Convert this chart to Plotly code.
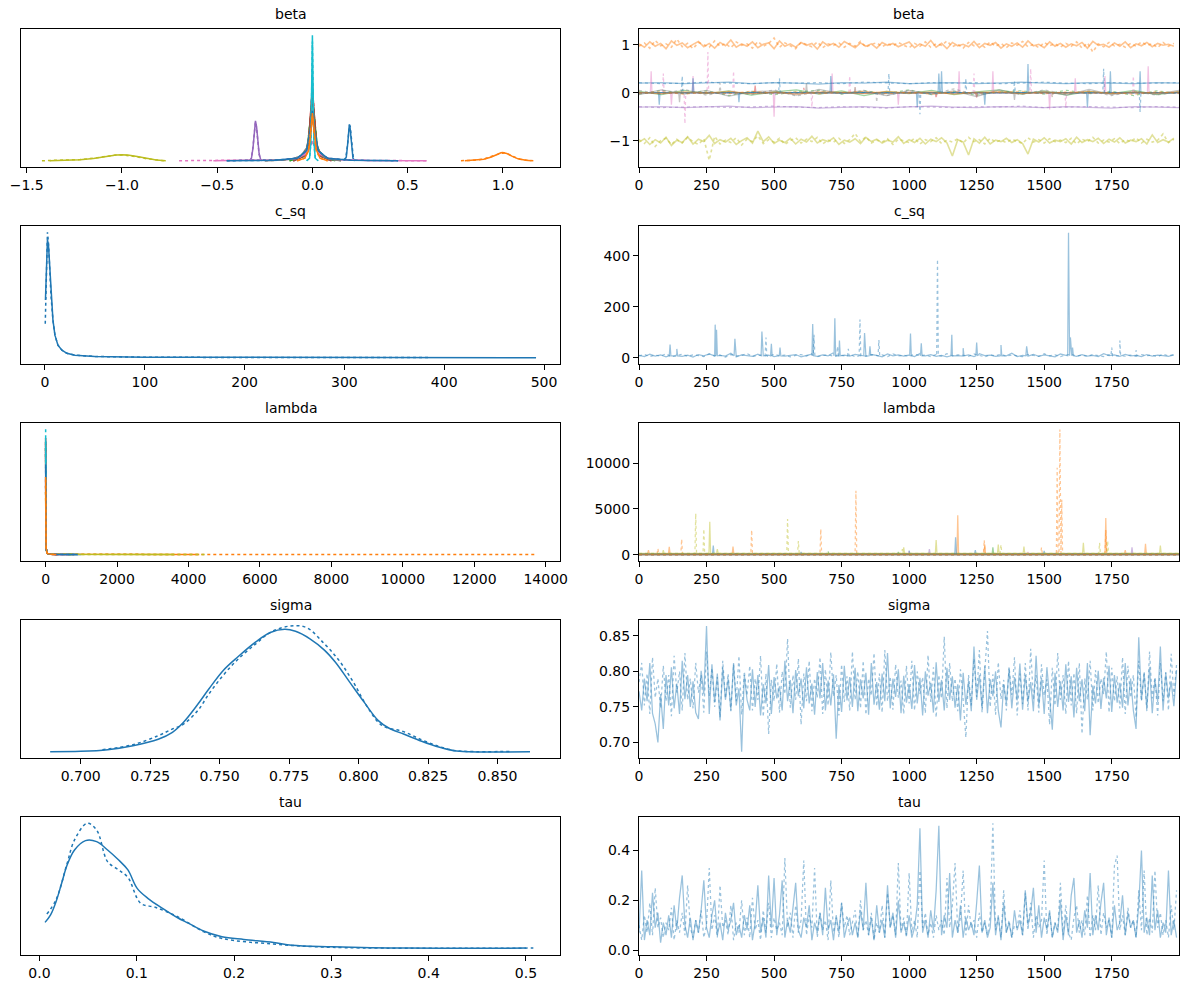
import plotly.graph_objects as go

# ---------------- data ----------------
draws_10 = list(range(0, 2000, 10))
draws_20 = list(range(0, 2000, 20))
draws_25pts = [round(i * 1999 / 24) for i in range(25)]

titles = ["beta", "c_sq", "lambda", "sigma", "tau"]
colors = ["#1f77b4", "#ff7f0e", "#2ca02c", "#d62728", "#9467bd", "#8c564b",
          "#e377c2", "#7f7f7f", "#bcbd22", "#17becf", "#1f77b4", "#ff7f0e"]

# ---- beta KDE (normalised heights) ----
beta_kde_x0 = [
    [0.168, 0.178, 0.185, 0.19, 0.194, 0.198, 0.203, 0.208, 0.213, 0.222],
    [0.80, 0.85, 0.90, 0.94, 0.97, 0.99, 1.00, 1.02, 1.05, 1.08, 1.12, 1.15],
    [-0.12, -0.05, -0.025, -0.01, 0, 0.01, 0.025, 0.05, 0.12],
    [-0.1, -0.04, -0.02, -0.008, 0, 0.008, 0.02, 0.04, 0.1],
    [-0.33, -0.32, -0.312, -0.305, -0.299, -0.293, -0.287, -0.28, -0.272, -0.265],
    [-0.1, -0.04, -0.02, -0.008, 0, 0.008, 0.02, 0.04, 0.1],
    [-0.52, -0.3, -0.15, -0.08, -0.04, -0.02, 0, 0.02, 0.04, 0.08, 0.15, 0.3, 0.6],
    [-0.25, -0.15, -0.1, -0.06, -0.03, -0.01, 0, 0.01, 0.03, 0.06, 0.1, 0.15],
    [-1.38, -1.3, -1.22, -1.15, -1.08, -1.03, -1.0, -0.97, -0.92, -0.87, -0.82, -0.77],
    [-0.03, -0.015, -0.008, -0.004, 0, 0.004, 0.008, 0.015, 0.03],
    [-0.45, -0.2, -0.08, -0.03, -0.01, 0, 0.01, 0.03, 0.08, 0.2, 0.45],
    [-0.08, -0.04, -0.02, -0.01, 0, 0.01, 0.02, 0.04, 0.08],
]
beta_kde_h0 = [
    [0, 0.03, 0.13, 0.24, 0.29, 0.26, 0.17, 0.08, 0.02, 0],
    [0, 0.003, 0.012, 0.03, 0.052, 0.063, 0.066, 0.058, 0.035, 0.015, 0.004, 0],
    [0, 0.03, 0.12, 0.35, 0.5, 0.35, 0.12, 0.03, 0],
    [0, 0.04, 0.14, 0.4, 0.6, 0.4, 0.14, 0.04, 0],
    [0, 0.02, 0.1, 0.22, 0.318, 0.27, 0.16, 0.06, 0.01, 0],
    [0, 0.04, 0.12, 0.35, 0.55, 0.35, 0.12, 0.04, 0],
    [0, 0.002, 0.008, 0.02, 0.05, 0.1, 0.15, 0.1, 0.05, 0.02, 0.008, 0.002, 0],
    [0, 0.005, 0.015, 0.04, 0.1, 0.25, 0.35, 0.25, 0.09, 0.03, 0.01, 0],
    [0, 0.003, 0.008, 0.018, 0.035, 0.045, 0.048, 0.045, 0.033, 0.017, 0.005, 0],
    [0, 0.02, 0.15, 0.55, 1.0, 0.55, 0.15, 0.02, 0],
    [0, 0.004, 0.02, 0.08, 0.25, 0.4, 0.25, 0.08, 0.02, 0.004, 0],
    [0, 0.02, 0.08, 0.2, 0.38, 0.22, 0.09, 0.02, 0],
]
beta_kde_x1 = [
    [0.165, 0.176, 0.184, 0.19, 0.195, 0.199, 0.204, 0.209, 0.215, 0.225],
    [0.78, 0.85, 0.90, 0.94, 0.97, 0.99, 1.01, 1.03, 1.06, 1.09, 1.13, 1.16],
    [-0.12, -0.05, -0.025, -0.01, 0, 0.01, 0.025, 0.05, 0.12],
    [-0.1, -0.04, -0.02, -0.008, 0, 0.008, 0.02, 0.04, 0.1],
    [-0.33, -0.32, -0.312, -0.305, -0.299, -0.293, -0.287, -0.28, -0.272, -0.265],
    [-0.1, -0.04, -0.02, -0.008, 0, 0.008, 0.02, 0.04, 0.1],
    [-0.70, -0.3, -0.15, -0.08, -0.04, -0.02, 0, 0.02, 0.04, 0.08, 0.15, 0.3, 0.6],
    [-0.25, -0.15, -0.1, -0.06, -0.03, -0.01, 0, 0.01, 0.03, 0.06, 0.1, 0.15],
    [-1.42, -1.3, -1.22, -1.15, -1.08, -1.03, -1.0, -0.97, -0.92, -0.87, -0.82, -0.78],
    [-0.03, -0.015, -0.008, -0.004, 0, 0.004, 0.008, 0.015, 0.03],
    [-0.45, -0.2, -0.08, -0.03, -0.01, 0, 0.01, 0.03, 0.08, 0.2, 0.45],
    [-0.08, -0.04, -0.02, -0.01, 0, 0.01, 0.02, 0.04, 0.08],
]
beta_kde_h1 = [
    [0, 0.03, 0.12, 0.23, 0.285, 0.27, 0.17, 0.07, 0.02, 0],
    [0, 0.004, 0.013, 0.032, 0.05, 0.06, 0.062, 0.052, 0.03, 0.012, 0.003, 0],
    [0, 0.03, 0.13, 0.33, 0.48, 0.36, 0.11, 0.03, 0],
    [0, 0.04, 0.13, 0.38, 0.58, 0.41, 0.13, 0.04, 0],
    [0, 0.02, 0.11, 0.24, 0.31, 0.26, 0.15, 0.05, 0.01, 0],
    [0, 0.04, 0.12, 0.34, 0.53, 0.36, 0.12, 0.04, 0],
    [0, 0.002, 0.008, 0.02, 0.05, 0.1, 0.14, 0.1, 0.05, 0.02, 0.008, 0.002, 0],
    [0, 0.005, 0.015, 0.04, 0.1, 0.24, 0.33, 0.24, 0.09, 0.03, 0.01, 0],
    [0, 0.003, 0.009, 0.02, 0.036, 0.046, 0.047, 0.043, 0.031, 0.016, 0.005, 0],
    [0, 0.02, 0.14, 0.5, 0.95, 0.5, 0.14, 0.02, 0],
    [0, 0.004, 0.02, 0.08, 0.24, 0.38, 0.24, 0.08, 0.02, 0.004, 0],
    [0, 0.02, 0.09, 0.22, 0.36, 0.2, 0.08, 0.02, 0],
]

# ---- beta traces ----
beta_level = [0.2, 1.0, 0, 0, -0.3, 0, 0, 0, -1.0, 0, 0, 0]
beta0_c0 = [0.20, 0.21, 0.19, 0.20, 0.22, 0.19, 0.21, 0.20, 0.18, 0.21, 0.20, 0.22, 0.19,
            0.20, 0.21, 0.19, 0.20, 0.22, 0.20, 0.19, 0.21, 0.20, 0.19, 0.21, 0.20]
beta0_c1 = [0.21, 0.19, 0.20, 0.22, 0.20, 0.19, 0.21, 0.20, 0.21, 0.19, 0.22, 0.20, 0.19,
            0.21, 0.20, 0.21, 0.19, 0.20, 0.22, 0.20, 0.19, 0.21, 0.20, 0.20, 0.21]
beta1_c0 = [1.02, 0.95, 1.06, 0.97, 1.03, 0.92, 1.08, 0.99, 1.04, 0.94, 1.01, 1.07, 0.96, 1.03,
            0.93, 1.05, 0.98, 1.10, 0.95, 1.02, 0.97, 1.06, 0.94, 1.01, 1.04, 0.92, 1.08, 0.97,
            1.02, 0.95, 1.05, 0.99, 1.03, 0.91, 1.06, 0.98, 1.03, 0.95, 1.07, 1.00, 0.94, 1.04,
            0.97, 1.02, 0.93, 1.05, 0.99, 1.03, 0.96, 1.01, 1.06, 0.94, 1.02, 0.97, 1.09, 0.95,
            1.03, 0.92, 1.05, 0.98, 1.01, 0.96, 1.07, 0.94, 1.03, 0.99, 1.05, 0.93, 1.02, 0.97,
            1.04, 0.95, 1.08, 0.98, 1.01, 0.94, 1.06, 0.97, 1.03, 0.95, 1.02, 0.98, 1.05, 0.93,
            1.07, 0.99, 1.01, 0.95, 1.04, 0.97, 1.06, 0.94, 1.02, 0.98, 1.05, 0.96, 1.03, 0.99,
            1.01, 0.97]
beta1_c1 = [0.97, 1.04, 0.93, 1.09, 0.98, 1.02, 0.95, 1.12, 0.96, 1.03, 0.92, 1.05, 1.00, 0.95,
            1.08, 0.97, 1.03, 0.94, 1.06, 0.99, 1.02, 0.93, 1.07, 0.97, 1.03, 1.14, 0.95, 1.04,
            0.98, 0.92, 1.05, 1.01, 0.96, 1.06, 0.94, 1.02, 0.99, 1.04, 0.95, 1.03, 0.97, 1.07,
            0.95, 1.01, 1.04, 0.96, 1.02, 0.98, 1.05, 0.99, 0.94, 1.03, 0.97, 1.06, 0.95, 1.02,
            0.99, 1.08, 0.96, 1.01, 0.93, 1.05, 0.98, 1.02, 0.95, 1.06, 0.97, 1.03, 0.94, 1.04,
            0.99, 1.07, 0.96, 1.01, 0.94, 1.05, 0.98, 1.02, 0.95, 1.03, 0.97, 1.06, 0.93, 1.04,
            0.85, 1.02, 0.96, 1.05, 0.98, 1.01, 0.95, 1.03, 0.97, 1.06, 0.99, 1.02, 0.94, 1.05,
            0.97, 1.03]
beta2_c0 = [0.03, -0.04, 0.05, -0.02, 0.04, -0.05, 0.02, 0.06, -0.03, 0.04, -0.06, 0.03, -0.02,
            0.05, -0.04, 0.02, 0.06, -0.03, 0.04, -0.05, 0.03, -0.02, 0.05, -0.04, 0.02]
beta2_c1 = [-0.03, 0.05, -0.02, 0.04, -0.06, 0.03, -0.04, 0.02, 0.05, -0.03, 0.04, -0.02, 0.06,
            -0.04, 0.03, -0.05, 0.02, 0.04, -0.03, 0.05, -0.02, 0.03, -0.06, 0.04, -0.02]
beta4_c0 = [-0.30, -0.29, -0.31, -0.30, -0.28, -0.31, -0.30, -0.29, -0.32, -0.30, -0.29, -0.31,
            -0.30, -0.28, -0.30, -0.31, -0.29, -0.30, -0.31, -0.29, -0.30, -0.32, -0.29, -0.30, -0.31]
beta4_c1 = [-0.29, -0.31, -0.30, -0.29, -0.31, -0.30, -0.28, -0.30, -0.31, -0.29, -0.30, -0.32,
            -0.29, -0.30, -0.31, -0.29, -0.30, -0.28, -0.31, -0.30, -0.29, -0.30, -0.31, -0.29, -0.30]
beta7_c0 = [-0.04, 0.06, -0.03, 0.05, -0.07, 0.02, 0.04, -0.05, 0.07, -0.02, 0.03, -0.06, 0.05,
            -0.03, 0.04, -0.08, 0.06, -0.02, 0.03, -0.05, 0.07, -0.04, 0.02, -0.03, 0.05]
beta7_c1 = [0.05, -0.03, 0.07, -0.05, 0.02, -0.04, 0.06, -0.07, 0.03, -0.02, 0.05, -0.06, 0.04,
            -0.03, 0.08, -0.05, 0.02, -0.04, 0.06, -0.03, 0.04, -0.06, 0.03, -0.05, 0.02]
beta8_c0 = [-1.03, -0.96, -1.08, -0.98, -1.05, -0.93, -1.10, -0.99, -1.04, -0.92, -1.07, -0.97,
            -1.02, -0.89, -1.06, -0.98, -1.03, -0.95, -1.08, -1.00, -0.94, -1.05, -0.80, -1.02,
            -0.92, -1.06, -0.99, -1.04, -0.95, -1.07, -0.97, -1.03, -0.91, -1.05, -0.98, -1.02,
            -0.94, -1.08, -0.99, -1.03, -0.96, -1.06, -0.93, -1.02, -0.97, -1.05, -0.99, -1.03,
            -0.92, -1.06, -0.98, -1.04, -0.95, -1.07, -0.97, -1.02, -0.94, -1.05, -1.32, -0.98,
            -1.03, -1.30, -0.96, -1.05, -0.93, -1.07, -0.99, -1.02, -0.95, -1.04, -0.98, -1.06,
            -1.28, -0.97, -1.03, -0.94, -1.05, -0.99, -1.02, -0.96, -1.07, -0.93, -1.04, -0.98,
            -1.02, -0.95, -1.06, -0.97, -1.03, -0.94, -1.05, -0.99, -1.02, -0.96, -1.07, -0.88,
            -1.04, -0.98, -1.03, -0.95]
beta8_c1 = [-0.98, -1.06, -0.94, -1.12, -1.00, -0.95, -1.08, -0.97, -1.05, -0.93, -1.02, -1.08,
            -0.96, -1.41, -0.91, -1.07, -0.99, -1.04, -0.94, -1.09, -0.97, -1.02, -0.90, -1.06,
            -0.98, -1.03, -0.95, -1.08, -1.00, -0.94, -1.05, -0.97, -1.02, -0.93, -1.07, -0.99,
            -1.03, -0.95, -1.06, -0.98, -0.85, -1.02, -0.92, -1.05, -0.99, -1.03, -0.96, -1.08,
            -0.97, -1.01, -1.04, -0.95, -1.07, -0.98, -1.02, -0.94, -1.06, -0.99, -1.03, -0.96,
            -1.05, -0.93, -1.02, -0.98, -1.07, -0.95, -1.03, -0.99, -1.04, -0.97, -1.02, -1.06,
            -0.94, -1.03, -0.98, -1.05, -0.96, -1.02, -0.99, -1.04, -0.95, -1.07, -0.97, -1.02,
            -0.93, -1.05, -0.99, -1.03, -0.96, -1.06, -0.98, -1.02, -0.94, -1.05, -0.97, -1.03,
            -0.99, -0.86, -1.04, -0.97]
beta11_c0 = [0.01, -0.02, 0.02, -0.01, 0.03, -0.02, 0.01, -0.03, 0.02, 0.01, -0.02, 0.03, -0.01,
             0.02, -0.03, 0.01, 0.02, -0.02, 0.01, -0.01, 0.03, -0.02, 0.01, -0.01, 0.02]
beta11_c1 = [-0.01, 0.02, -0.03, 0.01, -0.02, 0.03, -0.01, 0.02, -0.02, 0.01, 0.03, -0.02, 0.01,
             -0.03, 0.02, -0.01, 0.01, 0.03, -0.02, 0.02, -0.01, 0.01, -0.03, 0.02, -0.01]
# spikes (draw, value)
beta3_sp0 = [(430, 0.15), (1250, -0.1)]
beta3_sp1 = [(1100, -0.12), (610, 0.1)]
beta5_sp0 = [(800, 0.12)]
beta5_sp1 = [(1530, -0.1)]
beta6_sp0 = [(45, 0.45), (120, -0.25), (200, 0.35), (500, -0.5), (715, 0.4), (960, -0.25),
             (1185, 0.45), (1310, 0.45), (1520, -0.35), (1615, 0.3), (1725, 0.35), (1885, 0.55)]
beta6_sp1 = [(90, 0.4), (170, -0.65), (255, 0.85), (350, 0.45), (640, -0.3), (780, 0.35),
             (1240, 0.4), (1450, 0.5), (1580, -0.3), (1830, 0.35)]
beta7_sp0 = [(150, -0.2), (620, 0.2), (1390, -0.15)]
beta7_sp1 = [(300, 0.2), (880, -0.2)]
beta10_sp0 = [(75, -0.25), (200, 0.3), (370, -0.2), (710, 0.35), (1030, -0.3), (1110, 0.4),
              (1120, 0.45), (1280, -0.25), (1440, 0.6), (1660, -0.3), (1745, 0.45), (1855, 0.45)]
beta10_sp1 = [(160, 0.35), (520, 0.3), (925, 0.4), (1040, -0.45), (1210, 0.3), (1390, 0.25),
              (1720, 0.5), (1855, -0.4)]

# ---- c_sq ----
csq_kde_x0 = [0.5, 1.5, 2.5, 3.5, 4.5, 6, 8, 10, 13, 17, 22, 30, 50, 100, 200, 300, 400, 492]
csq_kde_h0 = [0.46, 0.8, 0.94, 0.9, 0.75, 0.5, 0.3, 0.18, 0.1, 0.06, 0.035, 0.02, 0.01, 0.004,
              0.002, 0.001, 0.001, 0.0005]
csq_kde_x1 = [0.3, 1.5, 2.5, 3.5, 4.5, 6, 8, 10, 13, 17, 22, 30, 50, 100, 200, 385]
csq_kde_h1 = [0.27, 0.75, 1.0, 0.92, 0.72, 0.5, 0.3, 0.18, 0.1, 0.06, 0.035, 0.02, 0.01, 0.004,
              0.002, 0.001]
csq_c0 = [10, 5, 14, 7, 12, 4, 9, 16, 6, 11, 3, 13, 8, 15, 5, 10, 7, 18, 4, 12,
          9, 6, 14, 8, 11, 5, 16, 7, 10, 13, 4, 9, 15, 6, 12, 8, 20, 5, 11, 7,
          14, 9, 6, 13, 10, 4, 15, 8, 12, 7, 11, 5, 17, 8, 13, 6, 10, 4, 14, 9,
          7, 12, 5, 16, 9, 11, 6, 13, 8, 18, 5, 10, 7, 14, 6, 12, 9, 4, 15, 8,
          11, 6, 13, 7, 10, 5, 16, 9, 12, 6, 14, 8, 10, 5, 13, 7, 11, 9, 6, 12]
csq_c1 = [8, 13, 5, 11, 7, 16, 4, 10, 14, 6, 12, 9, 5, 15, 8, 11, 3, 13, 7, 10,
          17, 6, 9, 12, 5, 14, 8, 11, 4, 10, 13, 7, 16, 5, 9, 12, 6, 11, 8, 14,
          4, 10, 7, 13, 9, 12, 5, 15, 8, 10, 6, 14, 9, 11, 5, 13, 7, 16, 8, 12,
          10, 6, 15, 9, 4, 12, 8, 14, 7, 11, 9, 5, 13, 10, 6, 16, 8, 12, 5, 11,
          14, 7, 10, 6, 13, 9, 5, 12, 8, 15, 7, 11, 6, 13, 9, 10, 5, 14, 8, 12]
csq_sp0 = [(115, 52), (140, 35), (282, 130), (287, 110), (355, 75), (455, 103), (490, 55),
           (522, 40), (643, 132), (725, 155), (742, 68), (835, 97), (855, 45), (1005, 95),
           (1045, 57), (1158, 90), (1200, 38), (1250, 60), (1340, 50), (1435, 45), (1590, 490),
           (1597, 80), (1605, 40)]
csq_sp1 = [(470, 80), (648, 90), (735, 45), (775, 35), (818, 150), (888, 70), (1105, 385),
           (1750, 40), (1780, 68), (1840, 30)]

# ---- lambda ----
lam_peak0 = [0.55, 0.5, 0.8, 0.93, 0.6, 0.85, 0.8, 0.88, 0.45, 0.93, 0.7, 0.62]
lam_peak1 = [0.6, 0.55, 0.85, 0.9, 0.62, 0.88, 0.82, 0.9, 0.5, 1.0, 0.72, 0.6]
lam_xmax0 = [1000, 4300, 800, 300, 600, 300, 600, 200, 3600, 200, 900, 300]
lam_xmax1 = [900, 13700, 700, 400, 800, 300, 800, 300, 4500, 200, 900, 300]
lam_tail_x = [12, 45, 150]
lam_tail_h = [0.05, 0.01, 0.003]
lam_level = [60, 120, 50, 20, 50, 20, 30, 20, 150, 10, 40, 20]
lam_sp0 = [
    [(275, 1000), (1245, 500), (1500, 400)],
    [(35, 500), (112, 850), (348, 900), (1180, 4300), (1280, 1100), (1728, 4000), (1800, 500),
     (1875, 1200)],
    [(960, 300), (1310, 800)], [], [(1075, 600), (1825, 800)], [], [(1440, 300)], [],
    [(90, 500), (262, 3600), (290, 600), (980, 800), (1100, 1600), (1330, 1100), (1425, 900),
     (1645, 1300), (1930, 1000)],
    [], [(1172, 1900)], [],
]
lam_sp1 = [
    [(600, 300), (1000, 450)],
    [(70, 700), (158, 1700), (417, 2700), (673, 2800), (803, 7000), (1278, 1600), (1490, 800),
     (1548, 9500), (1558, 13700), (1565, 6000), (1728, 2700)],
    [(700, 400)], [], [(1000, 400)], [], [], [],
    [(210, 4500), (240, 2800), (550, 3900), (590, 1500), (975, 600), (1340, 1100), (1705, 1300),
     (1735, 1500)],
    [], [], [],
]

# ---- sigma ----
sigma_kde_x0 = [0.689, 0.700, 0.7097, 0.7188, 0.7279, 0.733, 0.737, 0.7422, 0.7461, 0.7513,
                0.7565, 0.763, 0.7682, 0.7734, 0.7773, 0.7825, 0.7877, 0.7916, 0.7968, 0.802,
                0.8071, 0.811, 0.8162, 0.8227, 0.8292, 0.8344, 0.8396, 0.8617]
sigma_kde_h0 = [0, 0.003, 0.016, 0.048, 0.10, 0.155, 0.235, 0.38, 0.50, 0.648, 0.755, 0.875,
                0.95, 0.976, 0.96, 0.90, 0.81, 0.715, 0.555, 0.395, 0.248, 0.187, 0.141, 0.083,
                0.035, 0.008, 0, 0]
sigma_kde_x1 = [0.7078, 0.7188, 0.7279, 0.733, 0.737, 0.7422, 0.7461, 0.7513, 0.7565, 0.763,
                0.7682, 0.7747, 0.7812, 0.7877, 0.7929, 0.7981, 0.8032, 0.8084, 0.8162, 0.8227,
                0.8292, 0.8344, 0.8396, 0.855]
sigma_kde_h1 = [0.016, 0.056, 0.128, 0.181, 0.22, 0.33, 0.46, 0.61, 0.735, 0.86, 0.95, 1.0,
                0.99, 0.86, 0.73, 0.555, 0.355, 0.21, 0.16, 0.095, 0.04, 0.01, 0.002, 0.002]
sigma_c0 = [
    0.772, 0.745, 0.790, 0.758, 0.812, 0.741, 0.726, 0.700, 0.768, 0.719, 0.795, 0.752, 0.806, 0.748, 0.783, 0.740, 0.815, 0.761, 0.795, 0.750,
    0.786, 0.742, 0.733, 0.801, 0.768, 0.864, 0.740, 0.810, 0.757, 0.797, 0.731, 0.806, 0.760, 0.790, 0.745, 0.812, 0.752, 0.776, 0.687, 0.795,
    0.760, 0.745, 0.803, 0.750, 0.795, 0.738, 0.782, 0.755, 0.809, 0.740, 0.792, 0.762, 0.779, 0.745, 0.815, 0.758, 0.788, 0.741, 0.802, 0.765,
    0.790, 0.748, 0.806, 0.755, 0.783, 0.739, 0.799, 0.762, 0.812, 0.745, 0.787, 0.752, 0.796, 0.705, 0.781, 0.743, 0.808, 0.759, 0.792, 0.750,
    0.805, 0.744, 0.789, 0.762, 0.798, 0.739, 0.812, 0.753, 0.785, 0.746, 0.797, 0.758, 0.826, 0.748, 0.790, 0.764, 0.803, 0.741, 0.794, 0.756,
    0.782, 0.747, 0.809, 0.755, 0.791, 0.738, 0.800, 0.766, 0.784, 0.742, 0.813, 0.757, 0.788, 0.745, 0.805, 0.760, 0.793, 0.749, 0.782, 0.731,
    0.798, 0.753, 0.786, 0.744, 0.835, 0.760, 0.795, 0.748, 0.808, 0.741, 0.789, 0.765, 0.800, 0.745, 0.721, 0.782, 0.755, 0.804, 0.748, 0.792,
    0.759, 0.811, 0.746, 0.795, 0.757, 0.785, 0.744, 0.822, 0.752, 0.791, 0.740, 0.806, 0.763, 0.718, 0.798, 0.750, 0.786, 0.745, 0.810, 0.757,
    0.793, 0.735, 0.805, 0.758, 0.789, 0.744, 0.812, 0.710, 0.780, 0.755, 0.801, 0.747, 0.791, 0.762, 0.808, 0.743, 0.795, 0.756, 0.784, 0.749,
    0.812, 0.752, 0.790, 0.745, 0.719, 0.848, 0.760, 0.797, 0.748, 0.806, 0.741, 0.789, 0.757, 0.835, 0.745, 0.798, 0.762, 0.786, 0.751, 0.802]
sigma_c1 = [
    0.785, 0.812, 0.752, 0.797, 0.740, 0.820, 0.763, 0.790, 0.748, 0.808, 0.758, 0.795, 0.737, 0.822, 0.770, 0.800, 0.745, 0.826, 0.760, 0.790,
    0.748, 0.812, 0.770, 0.795, 0.742, 0.828, 0.765, 0.805, 0.750, 0.792, 0.735, 0.815, 0.762, 0.797, 0.744, 0.810, 0.758, 0.822, 0.739, 0.800,
    0.766, 0.808, 0.745, 0.790, 0.760, 0.822, 0.736, 0.797, 0.712, 0.788, 0.758, 0.811, 0.742, 0.800, 0.768, 0.846, 0.749, 0.795, 0.760, 0.818,
    0.725, 0.797, 0.758, 0.815, 0.744, 0.790, 0.763, 0.820, 0.740, 0.803, 0.752, 0.827, 0.765, 0.795, 0.738, 0.810, 0.757, 0.793, 0.745, 0.828,
    0.760, 0.800, 0.748, 0.815, 0.739, 0.790, 0.766, 0.826, 0.751, 0.797, 0.742, 0.830, 0.758, 0.793, 0.746, 0.810, 0.763, 0.787, 0.740, 0.808,
    0.755, 0.815, 0.745, 0.800, 0.768, 0.792, 0.741, 0.823, 0.757, 0.806, 0.735, 0.795, 0.762, 0.849, 0.748, 0.812, 0.758, 0.790, 0.744, 0.803,
    0.760, 0.707, 0.795, 0.752, 0.818, 0.764, 0.830, 0.742, 0.800, 0.857, 0.750, 0.796, 0.739, 0.813, 0.761, 0.788, 0.745, 0.806, 0.767, 0.820,
    0.738, 0.797, 0.754, 0.812, 0.745, 0.832, 0.760, 0.795, 0.742, 0.810, 0.766, 0.789, 0.725, 0.805, 0.752, 0.826, 0.760, 0.795, 0.740, 0.815,
    0.752, 0.798, 0.741, 0.812, 0.712, 0.790, 0.760, 0.815, 0.745, 0.802, 0.755, 0.790, 0.768, 0.828, 0.742, 0.805, 0.758, 0.793, 0.748, 0.820,
    0.740, 0.808, 0.763, 0.795, 0.735, 0.815, 0.758, 0.800, 0.744, 0.828, 0.762, 0.792, 0.738, 0.812, 0.758, 0.799, 0.745, 0.825, 0.765, 0.810]

# ---- tau ----
tau_kde_x0 = [0.0057, 0.0114, 0.017, 0.0227, 0.0284, 0.036, 0.0473, 0.0587, 0.070, 0.0814,
              0.0909, 0.1004, 0.1117, 0.1269, 0.142, 0.1534, 0.1686, 0.1875, 0.21, 0.2405,
              0.2595, 0.301, 0.377, 0.50]
tau_kde_h0 = [0.21, 0.27, 0.375, 0.52, 0.667, 0.787, 0.862, 0.854, 0.787, 0.707, 0.628, 0.481,
              0.40, 0.32, 0.247, 0.202, 0.141, 0.096, 0.074, 0.05, 0.027, 0.016, 0.005, 0.005]
tau_kde_x1 = [0.0076, 0.017, 0.0284, 0.036, 0.049, 0.0587, 0.070, 0.0814, 0.0909, 0.104, 0.119,
              0.142, 0.1686, 0.1875, 0.2405, 0.301, 0.5076]
tau_kde_h1 = [0.277, 0.39, 0.68, 0.867, 1.0, 0.947, 0.694, 0.628, 0.569, 0.362, 0.33, 0.255,
              0.136, 0.082, 0.037, 0.011, 0.005]
tau_c0 = [
    0.07, 0.32, 0.04, 0.12, 0.06, 0.23, 0.09, 0.15, 0.03, 0.11, 0.06, 0.14, 0.05, 0.18, 0.08, 0.21, 0.30, 0.10, 0.05, 0.13,
    0.04, 0.12, 0.07, 0.16, 0.28, 0.09, 0.05, 0.14, 0.20, 0.06, 0.11, 0.04, 0.15, 0.08, 0.12, 0.19, 0.06, 0.10, 0.05, 0.14,
    0.08, 0.18, 0.04, 0.11, 0.26, 0.07, 0.13, 0.05, 0.30, 0.09, 0.29, 0.06, 0.14, 0.28, 0.05, 0.12, 0.07, 0.16, 0.27, 0.08,
    0.05, 0.13, 0.09, 0.18, 0.04, 0.11, 0.07, 0.15, 0.06, 0.25, 0.08, 0.12, 0.04, 0.14, 0.07, 0.19, 0.05, 0.10, 0.13, 0.06,
    0.11, 0.05, 0.16, 0.08, 0.27, 0.06, 0.13, 0.04, 0.18, 0.07, 0.12, 0.05, 0.26, 0.09, 0.15, 0.05, 0.20, 0.07, 0.11, 0.06,
    0.14, 0.05, 0.09, 0.18, 0.49, 0.07, 0.12, 0.05, 0.16, 0.08, 0.24, 0.50, 0.06, 0.14, 0.09, 0.31, 0.05, 0.12, 0.07, 0.18,
    0.05, 0.13, 0.08, 0.11, 0.06, 0.19, 0.34, 0.07, 0.12, 0.05, 0.09, 0.27, 0.06, 0.14, 0.04, 0.19, 0.07, 0.11, 0.05, 0.16,
    0.08, 0.12, 0.06, 0.24, 0.10, 0.15, 0.25, 0.07, 0.18, 0.05, 0.13, 0.08, 0.16, 0.05, 0.11, 0.07, 0.20, 0.04, 0.14, 0.06,
    0.22, 0.29, 0.07, 0.12, 0.05, 0.16, 0.09, 0.31, 0.06, 0.14, 0.08, 0.19, 0.27, 0.06, 0.13, 0.05, 0.18, 0.08, 0.11, 0.22,
    0.06, 0.15, 0.09, 0.12, 0.05, 0.18, 0.40, 0.07, 0.13, 0.06, 0.30, 0.08, 0.16, 0.05, 0.11, 0.07, 0.32, 0.06, 0.12, 0.05]
tau_c1 = [
    0.10, 0.04, 0.14, 0.07, 0.19, 0.06, 0.25, 0.09, 0.13, 0.05, 0.11, 0.08, 0.17, 0.04, 0.12, 0.07, 0.15, 0.06, 0.26, 0.09,
    0.05, 0.12, 0.07, 0.16, 0.05, 0.10, 0.33, 0.08, 0.14, 0.05, 0.26, 0.09, 0.12, 0.06, 0.18, 0.04, 0.11, 0.07, 0.20, 0.06,
    0.13, 0.05, 0.21, 0.08, 0.12, 0.04, 0.16, 0.07, 0.19, 0.05, 0.13, 0.08, 0.11, 0.06, 0.37, 0.09, 0.15, 0.05, 0.18, 0.07,
    0.12, 0.36, 0.06, 0.14, 0.09, 0.33, 0.05, 0.15, 0.08, 0.12, 0.04, 0.28, 0.07, 0.13, 0.05, 0.19, 0.09, 0.14, 0.06, 0.11,
    0.16, 0.05, 0.20, 0.08, 0.12, 0.06, 0.15, 0.04, 0.11, 0.07, 0.18, 0.05, 0.23, 0.09, 0.14, 0.06, 0.35, 0.08, 0.13, 0.05,
    0.31, 0.07, 0.12, 0.05, 0.32, 0.09, 0.15, 0.06, 0.11, 0.05, 0.14, 0.08, 0.12, 0.06, 0.29, 0.09, 0.18, 0.35, 0.07, 0.13,
    0.32, 0.06, 0.18, 0.09, 0.12, 0.05, 0.15, 0.07, 0.11, 0.06, 0.14, 0.51, 0.08, 0.13, 0.05, 0.24, 0.07, 0.12, 0.05, 0.10,
    0.09, 0.16, 0.06, 0.23, 0.08, 0.19, 0.05, 0.14, 0.09, 0.12, 0.36, 0.06, 0.15, 0.05, 0.11, 0.08, 0.27, 0.06, 0.18, 0.07,
    0.04, 0.13, 0.18, 0.07, 0.12, 0.06, 0.22, 0.05, 0.14, 0.08, 0.26, 0.06, 0.15, 0.09, 0.12, 0.05, 0.34, 0.38, 0.08, 0.14,
    0.06, 0.17, 0.09, 0.12, 0.05, 0.24, 0.08, 0.32, 0.06, 0.13, 0.07, 0.32, 0.09, 0.15, 0.06, 0.12, 0.05, 0.18, 0.08, 0.24]

# ---- ticks ----
left_ticks = [[-1.5, -1.0, -0.5, 0.0, 0.5, 1.0], [0, 100, 200, 300, 400, 500],
              [0, 2000, 4000, 6000, 8000, 10000, 12000, 14000],
              [0.700, 0.725, 0.750, 0.775, 0.800, 0.825, 0.850], [0.0, 0.1, 0.2, 0.3, 0.4, 0.5]]
left_fmt = [".1f", "d", "d", ".3f", ".1f"]
left_range = [[-1.53, 1.30], [-24, 516], [-690, 14400], [0.6785, 0.8725], [-0.019, 0.535]]
right_xticks = [0, 250, 500, 750, 1000, 1250, 1500, 1750]
right_yticks = [[-1, 0, 1], [0, 200, 400], [0, 5000, 10000], [0.70, 0.75, 0.80, 0.85],
                [0.0, 0.2, 0.4]]
right_fmt = ["d", "d", "d", ".2f", ".1f"]
right_range = [[-1.55, 1.33], [-24, 516], [-690, 14400], [0.678, 0.8725], [-0.02, 0.535]]

# ---------------- layout helpers ----------------
W, H = 1188, 989
LX = (21, 560)
RX = (639, 1179)
TOPS = [29, 226, 423, 620, 817]
AH = 138
FONT = "DejaVu Sans"


def rgba(hexc, a):
    h = hexc.lstrip("#")
    return "rgba(%d,%d,%d,%.3f)" % (int(h[0:2], 16), int(h[2:4], 16), int(h[4:6], 16), a)


fig = go.Figure()


def ax_id(row, col):
    return row * 2 + col + 1


def add(row, col, x, y, color, dot, width, alpha=1.0, shape="linear"):
    k = ax_id(row, col)
    fig.add_trace(go.Scatter(
        x=x, y=y, mode="lines", xaxis="x" if k == 1 else "x%d" % k,
        yaxis="y" if k == 1 else "y%d" % k,
        line=dict(color=rgba(color, alpha), width=width, dash="dot" if dot else "solid",
                  shape=shape),
        hoverinfo="skip", showlegend=False))


def spiky(base_x, base_y, spikes, level):
    pts = list(zip(base_x, base_y))
    for d, v in spikes:
        pts += [(d - 3, level), (d, v), (d + 3, level)]
    pts.sort(key=lambda p: p[0])
    return [p[0] for p in pts], [p[1] for p in pts]


KW = 1.5    # kde width
TW = 1.25   # trace width
TA = 0.45   # trace alpha

# ---- beta left ----
for i in range(12):
    add(0, 0, beta_kde_x0[i], beta_kde_h0[i], colors[i], False, KW)
    add(0, 0, beta_kde_x1[i], beta_kde_h1[i], colors[i], True, KW)

# ---- beta right ----
beta_base = {0: (draws_25pts, beta0_c0, draws_25pts, beta0_c1),
             1: (draws_20, beta1_c0, draws_20, beta1_c1),
             2: (draws_25pts, beta2_c0, draws_25pts, beta2_c1),
             4: (draws_25pts, beta4_c0, draws_25pts, beta4_c1),
             7: (draws_25pts, beta7_c0, draws_25pts, beta7_c1),
             8: (draws_20, beta8_c0, draws_20, beta8_c1),
             11: (draws_25pts, beta11_c0, draws_25pts, beta11_c1)}
beta_spk = {3: (beta3_sp0, beta3_sp1), 5: (beta5_sp0, beta5_sp1), 6: (beta6_sp0, beta6_sp1),
            7: (beta7_sp0, beta7_sp1), 10: (beta10_sp0, beta10_sp1)}
for i in range(12):
    lv = beta_level[i]
    if i in beta_base:
        bx0, by0, bx1, by1 = beta_base[i]
    else:
        bx0, by0, bx1, by1 = [0, 1999], [lv, lv], [0, 1999], [lv, lv]
    s0, s1 = beta_spk.get(i, ([], []))
    wid = 1.6 if i in (1, 8) else TW
    x, y = spiky(bx0, by0, s0, lv)
    add(0, 1, x, y, colors[i], False, wid, TA)
    x, y = spiky(bx1, by1, s1, lv)
    add(0, 1, x, y, colors[i], True, wid, TA)

# ---- c_sq ----
add(1, 0, csq_kde_x0, csq_kde_h0, colors[0], False, KW)
add(1, 0, csq_kde_x1, csq_kde_h1, colors[0], True, KW)
x, y = spiky(draws_20, csq_c0, csq_sp0, 8)
add(1, 1, x, y, colors[0], False, TW, TA)
x, y = spiky(draws_20, csq_c1, csq_sp1, 8)
add(1, 1, x, y, colors[0], True, TW, TA)

# ---- lambda ----
for i in range(12):
    add(2, 0, [0] + lam_tail_x + [lam_xmax0[i]], [lam_peak0[i]] + lam_tail_h + [0.002],
        colors[i], False, KW)
    add(2, 0, [0] + lam_tail_x + [lam_xmax1[i]], [lam_peak1[i]] + lam_tail_h + [0.002],
        colors[i], True, KW)
for i in range(12):
    lv = lam_level[i]
    x, y = spiky([0, 1999], [lv, lv], lam_sp0[i], lv)
    add(2, 1, x, y, colors[i], False, TW, TA)
    x, y = spiky([0, 1999], [lv, lv], lam_sp1[i], lv)
    add(2, 1, x, y, colors[i], True, TW, TA)

# ---- sigma ----
add(3, 0, sigma_kde_x0, sigma_kde_h0, colors[0], False, KW, shape="spline")
add(3, 0, sigma_kde_x1, sigma_kde_h1, colors[0], True, KW, shape="spline")
add(3, 1, draws_10, sigma_c0, colors[0], False, TW, TA)
add(3, 1, draws_10, sigma_c1, colors[0], True, TW, TA)

# ---- tau ----
add(4, 0, tau_kde_x0, tau_kde_h0, colors[0], False, KW, shape="spline")
add(4, 0, tau_kde_x1, tau_kde_h1, colors[0], True, KW, shape="spline")
add(4, 1, draws_10, tau_c0, colors[0], False, TW, TA)
add(4, 1, draws_10, tau_c1, colors[0], True, TW, TA)

# ---------------- axes ----------------
layout = dict(width=W, height=H, margin=dict(l=0, r=0, t=0, b=0),
              paper_bgcolor="white", plot_bgcolor="white",
              font=dict(family=FONT, size=14, color="black"), annotations=[])
common = dict(showline=True, mirror=True, linecolor="black", linewidth=1, showgrid=False,
              zeroline=False, ticks="outside", ticklen=5, tickwidth=1, tickcolor="black",
              tickfont=dict(family=FONT, size=14, color="black"), exponentformat="none",
              separatethousands=False, automargin=False)
for r in range(5):
    y0 = 1 - (TOPS[r] + AH) / H
    y1 = 1 - TOPS[r] / H
    for c in range(2):
        k = ax_id(r, c)
        xs = "xaxis" if k == 1 else "xaxis%d" % k
        ys = "yaxis" if k == 1 else "yaxis%d" % k
        xr = LX if c == 0 else RX
        xa = dict(common, domain=[xr[0] / W, xr[1] / W], anchor="y" if k == 1 else "y%d" % k)
        ya = dict(common, domain=[y0, y1], anchor="x" if k == 1 else "x%d" % k)
        if c == 0:
            xa.update(range=left_range[r], tickvals=left_ticks[r], tickformat=left_fmt[r])
            ya.update(range=[-0.05, 1.05], showticklabels=False, ticks="")
        else:
            xa.update(range=[0, 1999], tickvals=right_xticks, tickformat="d")
            ya.update(range=right_range[r], tickvals=right_yticks[r], tickformat=right_fmt[r])
        layout[xs] = xa
        layout[ys] = ya
        layout["annotations"].append(dict(
            text=titles[r], xref="paper", yref="paper", x=(xr[0] + xr[1]) / 2 / W,
            y=1 - (TOPS[r] - 5) / H, xanchor="center", yanchor="bottom", showarrow=False,
            font=dict(family=FONT, size=14, color="black")))

fig.update_layout(**layout)
fig.write_html("out.html")
